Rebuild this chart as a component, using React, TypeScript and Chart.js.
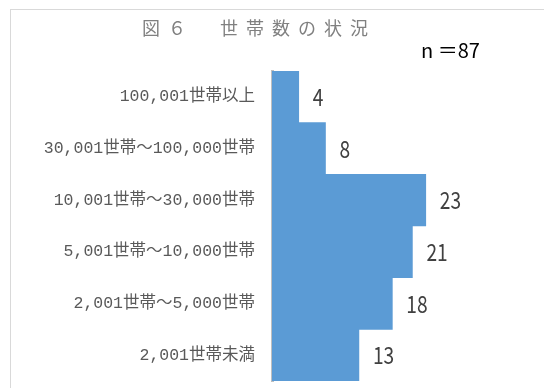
import React, { useEffect, useRef } from "react";
import { Chart, registerables } from "chart.js";

Chart.register(...registerables);

const categories = [
  "100,001世帯以上",
  "30,001世帯～100,000世帯",
  "10,001世帯～30,000世帯",
  "5,001世帯～10,000世帯",
  "2,001世帯～5,000世帯",
  "2,001世帯未満",
];
const counts = [4, 8, 23, 21, 18, 13];
const titleText = "図６　世帯数の状況";
const nText = "n ＝87";

const FONT = "'Noto Sans CJK JP', 'Noto Sans', sans-serif";
const TICK_FONT = "'Liberation Mono', 'Noto Sans CJK JP', monospace";

const valueLabels = {
  id: "valueLabels",
  afterDatasetsDraw(chart: any) {
    const ctx = chart.ctx;
    const meta = chart.getDatasetMeta(0);
    meta.data.forEach((bar: any, i: number) => {
      ctx.save();
      ctx.font = `24px ${FONT}`;
      ctx.fillStyle = "#404040";
      ctx.textAlign = "left";
      ctx.textBaseline = "middle";
      ctx.translate(bar.x + 14, bar.y);
      ctx.scale(0.8, 1);
      ctx.fillText(String(chart.data.datasets[0].data[i]), 0, 0);
      ctx.restore();
    });
  },
};

export default function App() {
  const ref = useRef<HTMLCanvasElement>(null);
  useEffect(() => {
    if (!ref.current) return;
    const chart = new Chart(ref.current, {
      type: "bar",
      data: {
        labels: categories,
        datasets: [
          {
            data: counts,
            backgroundColor: "#5B9BD5",
            borderWidth: 0,
            barPercentage: 1,
            categoryPercentage: 1,
          },
        ],
      },
      options: {
        indexAxis: "y",
        animation: false,
        responsive: false,
        maintainAspectRatio: false,
        layout: { padding: { left: 0, right: 38, top: 71, bottom: 7 } },
        plugins: { legend: { display: false }, tooltip: { enabled: false } },
        scales: {
          x: { display: false, min: 0, max: 35 },
          y: {
            afterFit(scale: any) {
              scale.width = 272;
              scale.paddingTop = 0;
              scale.paddingBottom = 0;
            },
            grid: { display: false, drawTicks: false },
            border: { display: true, color: "#bfbfbf", width: 3 },
            ticks: {
              padding: 17,
              color: "#595959",
              font: { family: TICK_FONT, size: 16.5 },
            },
          },
        },
      },
      plugins: [valueLabels],
    });
    return () => chart.destroy();
  }, []);
  return (
    <div style={{ position: "fixed", left: 0, top: 0, width: 544, height: 388, background: "#fff", overflow: "hidden" }}>
      <div style={{ position: "absolute", left: 10, top: 9, width: 560, height: 400, border: "1px solid #d9d9d9", boxSizing: "border-box" }} />
      <canvas ref={ref} width={544} height={388} style={{ position: "absolute", left: 0, top: 0 }} />
      <div style={{ position: "absolute", left: 0, width: 518, top: 15, textAlign: "center", fontFamily: FONT, fontSize: 18, letterSpacing: 8, color: "#808080", lineHeight: "24px" }}>
        {titleText}
      </div>
      <div style={{ position: "absolute", left: 421, top: 37, fontFamily: FONT, fontSize: 20, color: "#000", lineHeight: "26px" }}>
        {nText}
      </div>
    </div>
  );
}
